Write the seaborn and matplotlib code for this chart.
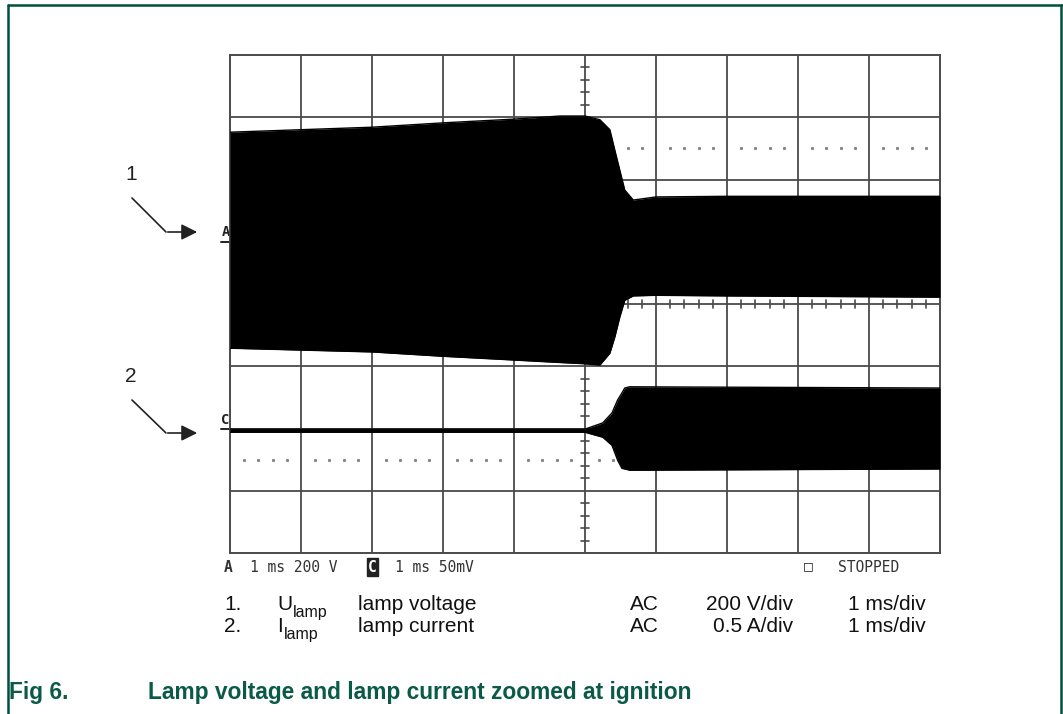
import numpy as np
import matplotlib.pyplot as plt
import seaborn as sns
import pandas as pd

# envelope of the scope traces (time in ms, amplitude in divisions)
time_v = [-5.0, -4.0, -3.0, -2.0, -1.0, -0.35, 0.0, 0.21, 0.35, 0.42, 0.49, 0.56, 0.68, 1.0, 2.0, 5.0]
volt_top = [2.76, 2.80, 2.84, 2.91, 2.97, 3.02, 3.02, 2.96, 2.80, 2.47, 2.15, 1.83, 1.67, 1.72, 1.73, 1.73]
volt_bot = [-0.71, -0.74, -0.77, -0.84, -0.90, -0.94, -0.96, -0.98, -0.79, -0.53, -0.21, 0.06, 0.13, 0.14, 0.13, 0.11]

time_i = [-5.0, 0.0, 0.25, 0.38, 0.46, 0.52, 0.56, 0.63, 5.0]
curr_top = [-2.01, -2.01, -1.91, -1.75, -1.54, -1.43, -1.35, -1.33, -1.35]
curr_bot = [-2.06, -2.06, -2.14, -2.27, -2.51, -2.64, -2.65, -2.67, -2.65]

legend_rows = [
    ("1.", "U", "lamp voltage", "AC", "200 V/div", "1 ms/div"),
    ("2.", "I", "lamp current", "AC", "0.5 A/div", "1 ms/div"),
]
caption_num = "Fig 6."
caption_text = "Lamp voltage and lamp current zoomed at ignition"

W, H = 1063, 714
GREEN = "#0b5a48"
GRID = "#4a4a4a"

sns.set_style("white")
plt.rcParams["font.family"] = ["Liberation Sans", "DejaVu Sans"]

fig = plt.figure(figsize=(W / 100, H / 100), dpi=100)

# overlay in pixel coordinates for frame, arrows and texts
over = fig.add_axes([0, 0, 1, 1], zorder=0)
over.set_xlim(0, W)
over.set_ylim(H, 0)
over.axis("off")

ax = fig.add_axes([230 / W, 1 - 553 / H, 710 / W, 498 / H], zorder=1)
ax.set_xlim(-5, 5)
ax.set_ylim(-4, 4)
ax.set_xticks([])
ax.set_yticks([])
for s in ax.spines.values():
    s.set_color(GRID)
    s.set_linewidth(1.4)

# graticule
for gx in range(-4, 5):
    ax.axvline(gx, color=GRID, lw=1.3, zorder=1)
for gy in range(-3, 4):
    ax.axhline(gy, color=GRID, lw=1.3, zorder=1)
minor = [m for m in np.round(np.arange(-5, 5.001, 0.2), 2) if abs(m - round(m)) > 1e-6]
minor_y = [m for m in np.round(np.arange(-4, 4.001, 0.2), 2) if abs(m - round(m)) > 1e-6]
for m in minor:
    ax.plot([m, m], [-0.065, 0.065], color=GRID, lw=1.2, zorder=1)
    for dy in (2.5, -2.5):
        ax.plot([m], [dy], marker="s", ms=1.2, color="#888888", zorder=1)
for m in minor_y:
    ax.plot([-0.06, 0.06], [m, m], color=GRID, lw=1.2, zorder=1)

# traces
df_v = pd.DataFrame({"t": time_v, "top": volt_top, "bot": volt_bot})
df_i = pd.DataFrame({"t": time_i, "top": curr_top, "bot": curr_bot})
for df in (df_v, df_i):
    sns.lineplot(data=df, x="t", y="top", color="black", lw=1, ax=ax, estimator=None, zorder=3)
    sns.lineplot(data=df, x="t", y="bot", color="black", lw=1, ax=ax, estimator=None, zorder=3)
    ax.fill_between(df["t"], df["bot"], df["top"], color="black", lw=0, zorder=3)
ax.set_xlabel("")
ax.set_ylabel("")

# channel reference markers
mono = "DejaVu Sans Mono"
over.text(226, 232, "A", family=mono, fontsize=10, fontweight="bold", ha="center", va="center", color="#222222")
over.plot([221, 232], [242, 242], color="#222222", lw=1.4)
over.text(225, 420, "C", family=mono, fontsize=10, fontweight="bold", ha="center", va="center", color="#222222")
over.plot([221, 232], [429, 429], color="#222222", lw=1.4)

# numbered arrows
for lab, ly, ay in (("1", 175, 232), ("2", 377, 433)):
    over.text(131, ly, lab, fontsize=15, ha="center", va="center", color="#222222")
    over.plot([132, 166], [ly + 23, ay], color="#222222", lw=1.2)
    over.annotate("", xy=(200, ay), xytext=(165, ay),
                  arrowprops=dict(arrowstyle="-|>", color="#222222", lw=1.2, mutation_scale=24))

# scope status line
st = dict(family=mono, fontsize=10.5, va="center", color="#333333")
over.text(224, 567, "A", fontweight="bold", **st)
over.text(250, 567, "1 ms 200 V", **st)
over.text(368, 567, "C", fontweight="bold", family=mono, fontsize=10.5, va="center", color="white",
          bbox=dict(boxstyle="square,pad=0.1", fc="#222222", ec="#222222"))
over.text(395, 567, "1 ms 50mV", **st)
over.text(804, 566, "\u25a1", **st)
over.text(838, 567, "STOPPED", **st)

# legend of the traces
for i, (num, sym, desc, cpl, vdiv, tdiv) in enumerate(legend_rows):
    y = 605 + 21 * i
    kw = dict(fontsize=15, va="center", color="#111111")
    over.text(224, y, num, **kw)
    over.text(277, y, sym, **kw)
    over.text(293 if sym == "U" else 284, y + 8, "lamp", fontsize=11.5, va="center", color="#111111")
    over.text(358, y, desc, **kw)
    over.text(630, y, cpl, **kw)
    over.text(793, y, vdiv, ha="right", **kw)
    over.text(926, y, tdiv, ha="right", **kw)

# caption and frame
over.text(9, 692, caption_num, fontsize=16.4, fontweight="bold", color=GREEN, va="center")
over.text(148, 692, caption_text, fontsize=16.4, fontweight="bold", color=GREEN, va="center")
over.plot([8, W], [5, 5], color="#00503c", lw=1.8)
over.plot([8, 8], [5, H], color="#00503c", lw=1.8)
over.plot([1061, 1061], [5, H], color="#00503c", lw=1.8)

fig.savefig("out.png", dpi=100)
